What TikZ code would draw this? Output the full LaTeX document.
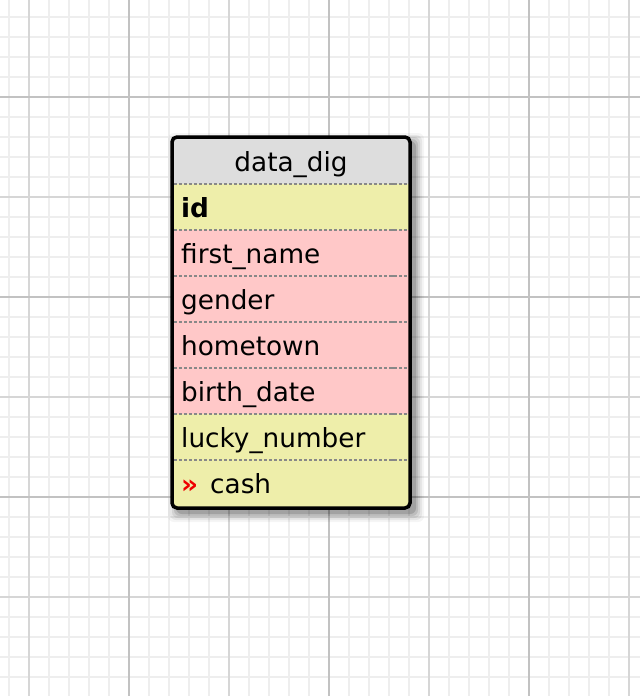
\documentclass[tikz,border=0pt]{standalone}
\usepackage{fontspec}
\setmainfont{DejaVu Sans}
\definecolor{hdr}{HTML}{DDDDDD}
\definecolor{yel}{HTML}{EEEEAA}
\definecolor{pnk}{HTML}{FFC8C8}
\definecolor{gminor}{HTML}{EEEEEE}
\definecolor{gmed}{HTML}{D6D6D6}
\definecolor{gmaj}{HTML}{C2C2C2}
\definecolor{sepc}{HTML}{888888}
\definecolor{keyred}{HTML}{EE0000}
\begin{document}
\begin{tikzpicture}[x=1pt,y=-1pt,
  fieldtext/.style={anchor=base west,inner sep=0pt,font=\fontsize{26.3}{30}\selectfont},
  titletext/.style={anchor=base,inner sep=0pt,font=\fontsize{26.3}{30}\selectfont},
  gridminor/.style={gminor,line width=2pt},
  gridmed/.style={gmed,line width=2pt},
  gridmaj/.style={gmaj,line width=2pt},
  sepline/.style={sepc,line width=2pt,dash pattern=on 3pt off 2pt}]
\useasboundingbox (0,0) rectangle (640,696);
\fill[white] (0,0) rectangle (640,696);
% grid
\foreach \x in {9,29,...,629} \draw[gridminor] (\x,0) -- (\x,696);
\foreach \y in {17,37,...,677} \draw[gridminor] (0,\y) -- (640,\y);
\foreach \x in {29,229,429,629} \draw[gridmed] (\x,0) -- (\x,696);
\foreach \y in {197,397,597} \draw[gridmed] (0,\y) -- (640,\y);
\foreach \x in {129,329,529} \draw[gridmaj] (\x,0) -- (\x,696);
\foreach \y in {97,297,497} \draw[gridmaj] (0,\y) -- (640,\y);
% shadow
\foreach \d/\o in {9/0.04,7/0.06,5/0.08,3/0.1,1/0.14} {
  \fill[black,opacity=\o,rounded corners=6] ({177-\d},{142-\d}) rectangle ({415+\d},{513+\d});
}
% table fills
\begin{scope}
  \clip[rounded corners=5] (172,137) rectangle (410,508);
  \fill[hdr] (172,137) rectangle (410,184);
  \fill[yel] (172,184) rectangle (410,230);
  \fill[pnk] (172,230) rectangle (410,414);
  \fill[yel] (172,414) rectangle (410,508);
\end{scope}
% separators
\foreach \y in {184,230,276,322,368,414,460} {
  \draw[sepline] (174,\y) -- (408,\y);
  \draw[sepc,line width=2pt] (390,\y) -- (397,\y);
}
% border
\draw[black,line width=3.5pt,rounded corners=5] (172,137) rectangle (410,508);
% texts
\node[titletext] (title) at (291,171.7) {data\_dig};
\node[fieldtext] (fid) at (181,217) {\bfseries id};
\node[fieldtext] (ffirst) at (181,263) {first\_name};
\node[fieldtext] (fgender) at (181,309) {gender};
\node[fieldtext] (fhome) at (181,355) {hometown};
\node[fieldtext] (fbirth) at (181,401) {birth\_date};
\node[fieldtext] (flucky) at (181,447) {lucky\_number};
\node[fieldtext] (fcash) at (181,493) {{\bfseries\color{keyred}»}\hspace{12pt}cash};
\end{tikzpicture}
\end{document}
